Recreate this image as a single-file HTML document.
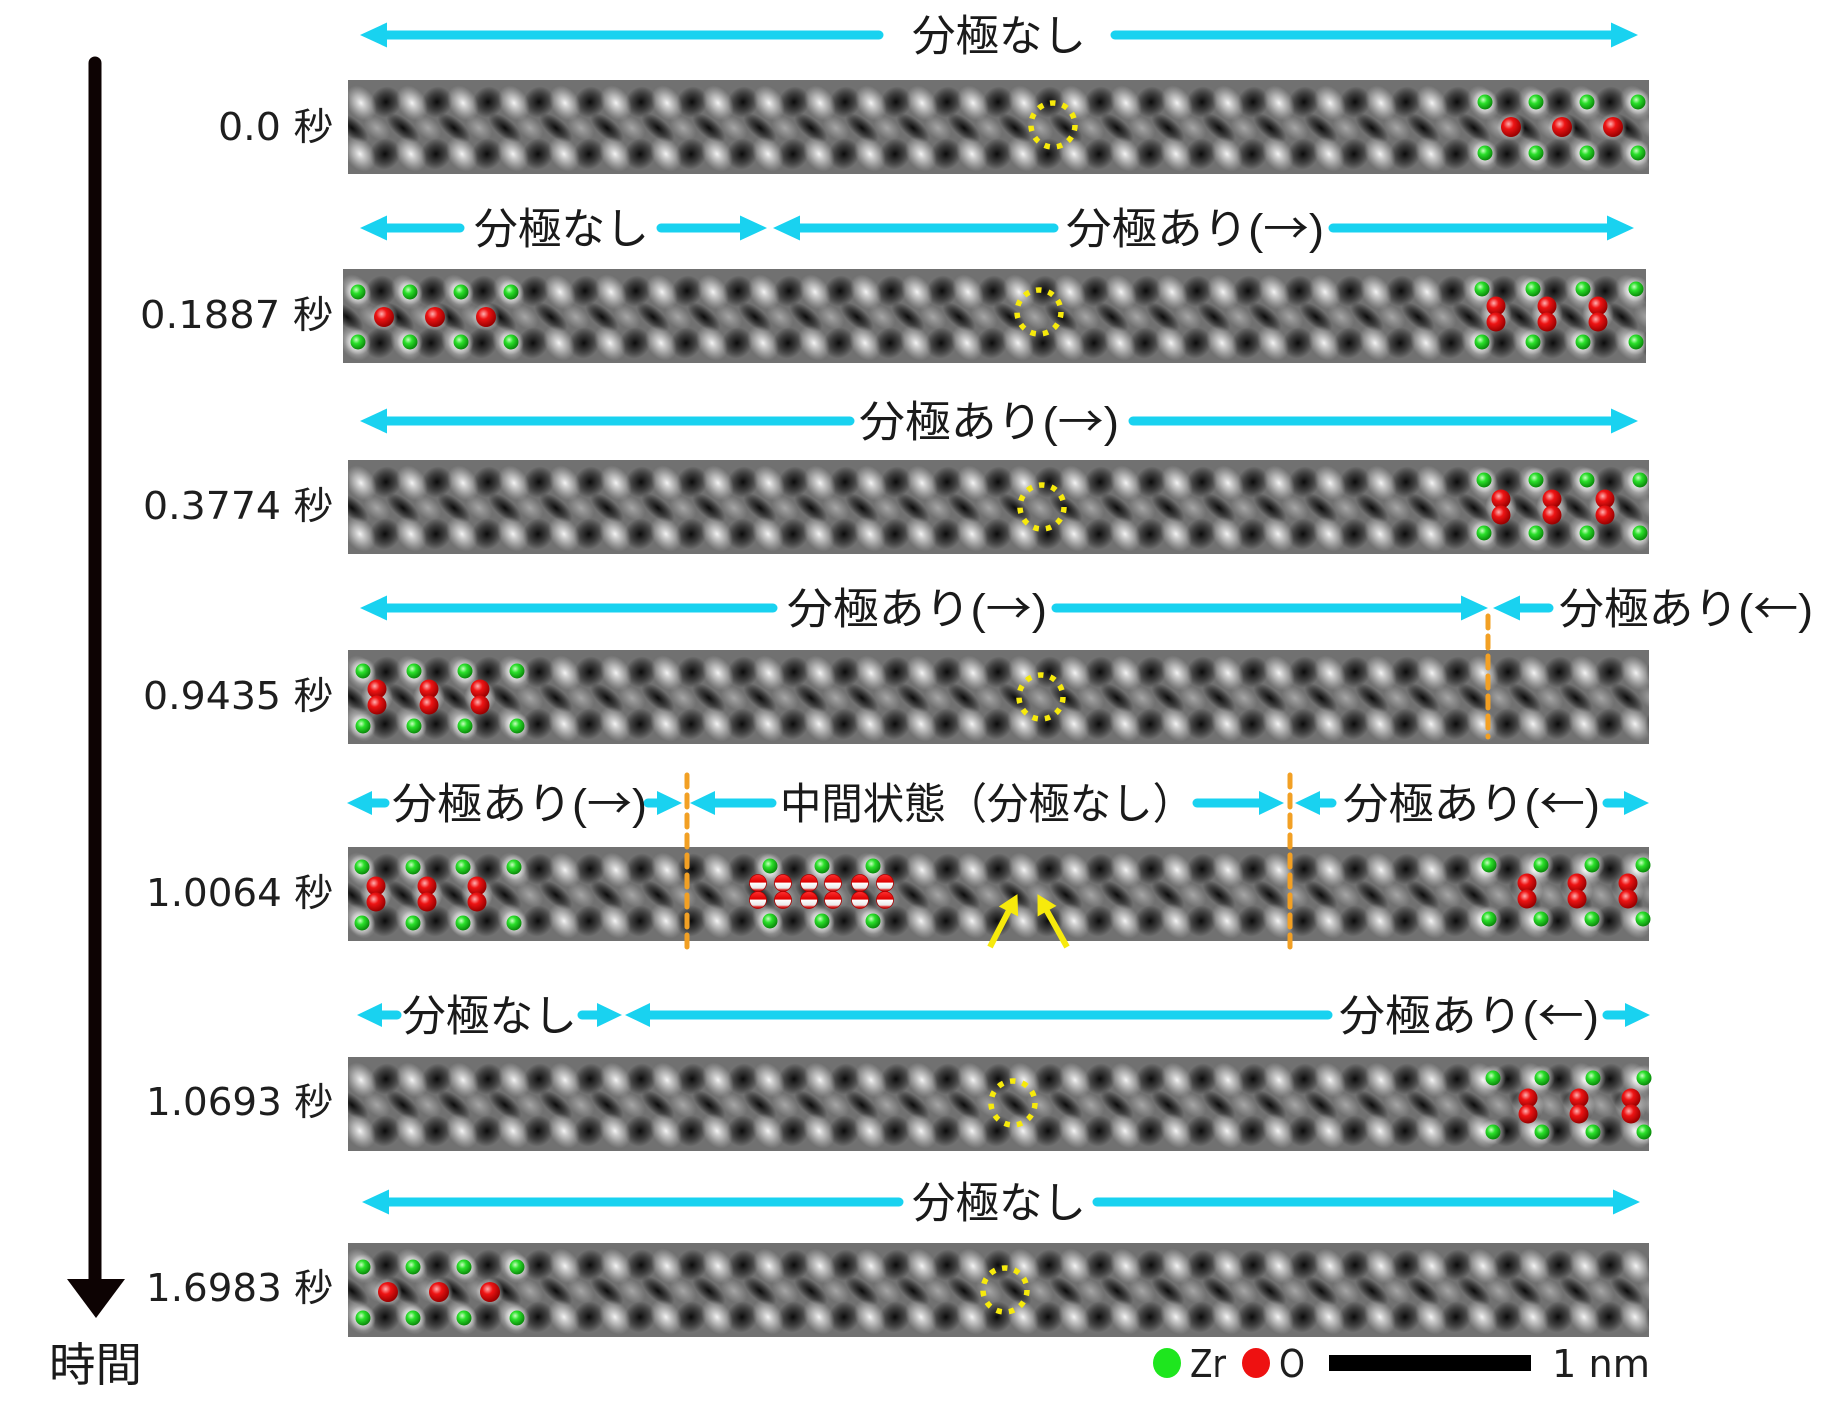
<!DOCTYPE html>
<html lang="ja">
<head>
<meta charset="utf-8">
<style>
  html,body{margin:0;padding:0;background:#fff;}
  svg{display:block;}
  .jp{font-family:"Liberation Sans","Noto Sans CJK JP",sans-serif;font-size:43px;fill:#1a1a1a;}
  .ar{font-family:"Noto Sans CJK JP",sans-serif;}
  .tl{font-family:"DejaVu Sans","Noto Sans CJK JP",sans-serif;font-size:38px;fill:#1e1e1e;}
  .lg{font-family:"DejaVu Sans","Liberation Sans",sans-serif;font-size:38px;fill:#1e1e1e;}
</style>
</head>
<body>
<svg width="1848" height="1402" viewBox="0 0 1848 1402" xmlns="http://www.w3.org/2000/svg">
<defs>
  <radialGradient id="gw">
    <stop offset="0" stop-color="#ffffff" stop-opacity="0.92"/>
    <stop offset="0.45" stop-color="#e0e0e0" stop-opacity="0.6"/>
    <stop offset="1" stop-color="#c8c8c8" stop-opacity="0"/>
  </radialGradient>
  <radialGradient id="gk">
    <stop offset="0" stop-color="#000000" stop-opacity="0.9"/>
    <stop offset="0.5" stop-color="#0a0a0a" stop-opacity="0.55"/>
    <stop offset="1" stop-color="#000000" stop-opacity="0"/>
  </radialGradient>
  <radialGradient id="gl">
    <stop offset="0" stop-color="#cfcfcf" stop-opacity="0.55"/>
    <stop offset="1" stop-color="#cfcfcf" stop-opacity="0"/>
  </radialGradient>
  <radialGradient id="halo">
    <stop offset="0" stop-color="#ffffff" stop-opacity="0.75"/>
    <stop offset="0.6" stop-color="#ffffff" stop-opacity="0.35"/>
    <stop offset="1" stop-color="#ffffff" stop-opacity="0"/>
  </radialGradient>
  <radialGradient id="gg" cx="0.38" cy="0.35" r="0.65">
    <stop offset="0" stop-color="#c8ffc0"/>
    <stop offset="0.4" stop-color="#2be02b"/>
    <stop offset="1" stop-color="#0a8a0a"/>
  </radialGradient>
  <radialGradient id="gr" cx="0.38" cy="0.35" r="0.65">
    <stop offset="0" stop-color="#ffb0b0"/>
    <stop offset="0.4" stop-color="#ee1414"/>
    <stop offset="1" stop-color="#9a0000"/>
  </radialGradient>
  <linearGradient id="grw" x1="0" y1="0" x2="0" y2="1">
    <stop offset="0" stop-color="#ff3030"/>
    <stop offset="0.45" stop-color="#dd0000"/>
    <stop offset="0.5" stop-color="#ffffff"/>
    <stop offset="0.8" stop-color="#e8e8e8"/>
    <stop offset="0.9" stop-color="#e03030"/>
    <stop offset="1" stop-color="#b00000"/>
  </linearGradient>

  <pattern id="tex" patternUnits="userSpaceOnUse" width="51" height="94">
    <rect width="51" height="94" fill="#717171"/>
    <!-- middle row -->
    <ellipse cx="4" cy="48" rx="20" ry="9" transform="rotate(40 4 48)" fill="url(#gk)"/>
    <ellipse cx="55" cy="48" rx="20" ry="9" transform="rotate(40 55 48)" fill="url(#gk)"/>
    <ellipse cx="29" cy="48" rx="15" ry="10" transform="rotate(40 29 48)" fill="url(#gl)"/>
    <!-- black blobs -->
    <ellipse cx="38" cy="22" rx="15" ry="16" transform="rotate(40 38 22)" fill="url(#gk)"/>
    <ellipse cx="-13" cy="22" rx="15" ry="16" transform="rotate(40 -13 22)" fill="url(#gk)"/>
    <ellipse cx="37" cy="74" rx="15" ry="16" transform="rotate(40 37 74)" fill="url(#gk)"/>
    <ellipse cx="-14" cy="74" rx="15" ry="16" transform="rotate(40 -14 74)" fill="url(#gk)"/>
    <!-- white blobs -->
    <ellipse cx="13" cy="23" rx="19" ry="14" transform="rotate(55 13 23)" fill="url(#gw)"/>
    <ellipse cx="64" cy="23" rx="19" ry="14" transform="rotate(55 64 23)" fill="url(#gw)"/>
    <ellipse cx="12" cy="74" rx="19" ry="14" transform="rotate(55 12 74)" fill="url(#gw)"/>
    <ellipse cx="63" cy="74" rx="19" ry="14" transform="rotate(55 63 74)" fill="url(#gw)"/>
  </pattern>

  <g id="zr">
    <circle r="13" fill="url(#halo)"/>
    <circle r="7.5" fill="url(#gg)"/>
  </g>
  <g id="o1">
    <circle r="14" fill="url(#halo)"/>
    <circle r="10" fill="url(#gr)"/>
  </g>
  <g id="o2">
    <circle r="16" fill="url(#halo)"/>
    <circle cy="-8" r="9.5" fill="url(#gr)"/>
    <circle cy="8" r="9.5" fill="url(#gr)"/>
  </g>
  <g id="orw">
    <circle r="8.5" fill="url(#grw)" stroke="#b00000" stroke-width="0.8"/>
  </g>
</defs>

<rect width="1848" height="1402" fill="#ffffff"/>

<!-- ===== Time axis ===== -->
<line x1="95" y1="63" x2="95" y2="1285" stroke="#0d0303" stroke-width="13" stroke-linecap="round"/>
<polygon points="67,1279 125,1279 96,1318" fill="#0d0303"/>
<text x="49" y="1381" font-family="Liberation Sans, Noto Sans CJK JP, sans-serif" font-size="46" fill="#1a1a1a" textLength="93" lengthAdjust="spacingAndGlyphs">時間</text>

<!-- ===== Bars ===== -->
<g transform="translate(348,80)"><rect width="1301" height="94" fill="url(#tex)"/></g>
<g transform="translate(343,269)"><rect width="1303" height="94" fill="url(#tex)"/></g>
<g transform="translate(348,460)"><rect width="1301" height="94" fill="url(#tex)"/></g>
<g transform="translate(348,650)"><rect width="1301" height="94" fill="url(#tex)"/></g>
<g transform="translate(348,847)"><rect width="1301" height="94" fill="url(#tex)"/></g>
<g transform="translate(348,1057)"><rect width="1301" height="94" fill="url(#tex)"/></g>
<g transform="translate(348,1243)"><rect width="1301" height="94" fill="url(#tex)"/></g>

<!-- ===== Atoms ===== -->
<use href="#zr" x="1485" y="102"/><use href="#zr" x="1536" y="102"/><use href="#zr" x="1587" y="102"/><use href="#zr" x="1638" y="102"/>
<use href="#zr" x="1485" y="153"/><use href="#zr" x="1536" y="153"/><use href="#zr" x="1587" y="153"/><use href="#zr" x="1638" y="153"/>
<use href="#o1" x="1511" y="127"/><use href="#o1" x="1562" y="127"/><use href="#o1" x="1613" y="127"/>

<use href="#zr" x="358" y="292"/><use href="#zr" x="410" y="292"/><use href="#zr" x="461" y="292"/><use href="#zr" x="511" y="292"/>
<use href="#zr" x="358" y="342"/><use href="#zr" x="410" y="342"/><use href="#zr" x="461" y="342"/><use href="#zr" x="511" y="342"/>
<use href="#o1" x="384" y="317"/><use href="#o1" x="435" y="317"/><use href="#o1" x="486" y="317"/>
<use href="#zr" x="1482" y="289"/><use href="#zr" x="1533" y="289"/><use href="#zr" x="1583" y="289"/><use href="#zr" x="1636" y="289"/>
<use href="#zr" x="1482" y="342"/><use href="#zr" x="1533" y="342"/><use href="#zr" x="1583" y="342"/><use href="#zr" x="1636" y="342"/>
<use href="#o2" x="1496" y="314"/><use href="#o2" x="1547" y="314"/><use href="#o2" x="1598" y="314"/>

<use href="#zr" x="1484" y="480"/><use href="#zr" x="1536" y="480"/><use href="#zr" x="1587" y="480"/><use href="#zr" x="1640" y="480"/>
<use href="#zr" x="1484" y="533"/><use href="#zr" x="1536" y="533"/><use href="#zr" x="1587" y="533"/><use href="#zr" x="1640" y="533"/>
<use href="#o2" x="1501" y="507"/><use href="#o2" x="1552" y="507"/><use href="#o2" x="1605" y="507"/>

<use href="#zr" x="363" y="671"/><use href="#zr" x="414" y="671"/><use href="#zr" x="465" y="671"/><use href="#zr" x="517" y="671"/>
<use href="#zr" x="363" y="726"/><use href="#zr" x="414" y="726"/><use href="#zr" x="465" y="726"/><use href="#zr" x="517" y="726"/>
<use href="#o2" x="377" y="697"/><use href="#o2" x="429" y="697"/><use href="#o2" x="480" y="697"/>

<use href="#zr" x="362" y="867"/><use href="#zr" x="413" y="867"/><use href="#zr" x="463" y="867"/><use href="#zr" x="514" y="867"/>
<use href="#zr" x="362" y="923"/><use href="#zr" x="413" y="923"/><use href="#zr" x="463" y="923"/><use href="#zr" x="514" y="923"/>
<use href="#o2" x="376" y="894"/><use href="#o2" x="427" y="894"/><use href="#o2" x="477" y="894"/>
<use href="#zr" x="770" y="866"/><use href="#zr" x="822" y="866"/><use href="#zr" x="873" y="866"/>
<use href="#zr" x="770" y="921"/><use href="#zr" x="822" y="921"/><use href="#zr" x="873" y="921"/>
<use href="#orw" x="758" y="883"/><use href="#orw" x="783" y="883"/><use href="#orw" x="809" y="883"/><use href="#orw" x="833" y="883"/><use href="#orw" x="860" y="883"/><use href="#orw" x="885" y="883"/>
<use href="#orw" x="758" y="900"/><use href="#orw" x="783" y="900"/><use href="#orw" x="809" y="900"/><use href="#orw" x="833" y="900"/><use href="#orw" x="860" y="900"/><use href="#orw" x="885" y="900"/>
<use href="#zr" x="1489" y="865"/><use href="#zr" x="1541" y="865"/><use href="#zr" x="1592" y="865"/><use href="#zr" x="1643" y="865"/>
<use href="#zr" x="1489" y="919"/><use href="#zr" x="1541" y="919"/><use href="#zr" x="1592" y="919"/><use href="#zr" x="1643" y="919"/>
<use href="#o2" x="1527" y="891"/><use href="#o2" x="1577" y="891"/><use href="#o2" x="1628" y="891"/>

<use href="#zr" x="1493" y="1078"/><use href="#zr" x="1542" y="1078"/><use href="#zr" x="1593" y="1078"/><use href="#zr" x="1644" y="1078"/>
<use href="#zr" x="1493" y="1132"/><use href="#zr" x="1542" y="1132"/><use href="#zr" x="1593" y="1132"/><use href="#zr" x="1644" y="1132"/>
<use href="#o2" x="1528" y="1106"/><use href="#o2" x="1579" y="1106"/><use href="#o2" x="1631" y="1106"/>

<use href="#zr" x="363" y="1267"/><use href="#zr" x="413" y="1267"/><use href="#zr" x="464" y="1267"/><use href="#zr" x="517" y="1267"/>
<use href="#zr" x="363" y="1318"/><use href="#zr" x="413" y="1318"/><use href="#zr" x="464" y="1318"/><use href="#zr" x="517" y="1318"/>
<use href="#o1" x="388" y="1292"/><use href="#o1" x="439" y="1292"/><use href="#o1" x="490" y="1292"/>

<!-- ===== Yellow dotted circles ===== -->
<g fill="none" stroke="#f7ea0c" stroke-width="5.5" stroke-dasharray="5.5 7.06">
  <circle cx="1053" cy="125" r="22"/>
  <circle cx="1039" cy="312" r="22"/>
  <circle cx="1042" cy="507" r="22"/>
  <circle cx="1041" cy="697" r="22"/>
  <circle cx="1013" cy="1103" r="22"/>
  <circle cx="1005" cy="1290" r="22"/>
</g>

<!-- ===== Yellow arrows (bar5) ===== -->
<g fill="#f7ea0c" stroke="#f7ea0c">
  <line x1="990" y1="947" x2="1008.7" y2="911" stroke-width="6"/>
  <polygon points="1017,895 1017.6,915.6 999.8,906.4" stroke-width="1"/>
  <line x1="1067" y1="947" x2="1046.8" y2="910.7" stroke-width="6"/>
  <polygon points="1038,895 1055.5,905.8 1038.1,915.6" stroke-width="1"/>
</g>

<!-- ===== Orange dashed boundaries ===== -->
<g stroke="#f2a024" stroke-width="5" stroke-dasharray="12 8" stroke-linecap="round">
  <line x1="1488" y1="616" x2="1488" y2="737"/>
  <line x1="687" y1="775" x2="687" y2="950"/>
  <line x1="1290" y1="775" x2="1290" y2="952"/>
</g>

<!-- ===== Cyan arrows ===== -->
<g fill="#19d2f0" stroke="#19d2f0" stroke-width="9" stroke-linecap="round">
  <line x1="380" y1="35" x2="879" y2="35"/><polygon points="360,35 387,22.5 387,47.5" stroke="none"/>
  <line x1="1115" y1="35" x2="1618" y2="35"/><polygon points="1638,35 1611,22.5 1611,47.5" stroke="none"/>
  <line x1="380" y1="228" x2="460" y2="228"/><polygon points="360,228 387,215.5 387,240.5" stroke="none"/>
  <line x1="661" y1="228" x2="747" y2="228"/><polygon points="767,228 740,215.5 740,240.5" stroke="none"/>
  <line x1="793" y1="228" x2="1054" y2="228"/><polygon points="773,228 800,215.5 800,240.5" stroke="none"/>
  <line x1="1333" y1="228" x2="1614" y2="228"/><polygon points="1634,228 1607,215.5 1607,240.5" stroke="none"/>
  <line x1="380" y1="421" x2="850" y2="421"/><polygon points="360,421 387,408.5 387,433.5" stroke="none"/>
  <line x1="1133" y1="421" x2="1618" y2="421"/><polygon points="1638,421 1611,408.5 1611,433.5" stroke="none"/>
  <line x1="380" y1="608" x2="773" y2="608"/><polygon points="360,608 387,595.5 387,620.5" stroke="none"/>
  <line x1="1056" y1="608" x2="1468" y2="608"/><polygon points="1488,608 1461,595.5 1461,620.5" stroke="none"/>
  <line x1="1513" y1="608" x2="1549" y2="608"/><polygon points="1493,608 1520,595.5 1520,620.5" stroke="none"/>
  <line x1="365" y1="803" x2="385" y2="803"/><polygon points="347,803 372,791 372,815" stroke="none"/>
  <line x1="648" y1="803" x2="665" y2="803"/><polygon points="682,803 657,791 657,815" stroke="none"/>
  <line x1="708" y1="803" x2="772" y2="803"/><polygon points="690,803 715,791 715,815" stroke="none"/>
  <line x1="1197" y1="803" x2="1266" y2="803"/><polygon points="1284,803 1259,791 1259,815" stroke="none"/>
  <line x1="1313" y1="803" x2="1332" y2="803"/><polygon points="1295,803 1320,791 1320,815" stroke="none"/>
  <line x1="1607" y1="803" x2="1632" y2="803"/><polygon points="1649,803 1624,791 1624,815" stroke="none"/>
  <line x1="375" y1="1015" x2="397" y2="1015"/><polygon points="357,1015 382,1003 382,1027" stroke="none"/>
  <line x1="582" y1="1015" x2="604" y2="1015"/><polygon points="622,1015 597,1003 597,1027" stroke="none"/>
  <line x1="643" y1="1015" x2="1328" y2="1015"/><polygon points="625,1015 650,1003 650,1027" stroke="none"/>
  <line x1="1607" y1="1015" x2="1632" y2="1015"/><polygon points="1650,1015 1625,1003 1625,1027" stroke="none"/>
  <line x1="382" y1="1202" x2="899" y2="1202"/><polygon points="362,1202 389,1189.5 389,1214.5" stroke="none"/>
  <line x1="1097" y1="1202" x2="1620" y2="1202"/><polygon points="1640,1202 1613,1189.5 1613,1214.5" stroke="none"/>
</g>

<!-- ===== Arrow labels ===== -->
<text class="jp" x="912" y="51" textLength="174" lengthAdjust="spacingAndGlyphs">分極なし</text>

<text class="jp" x="474" y="244" textLength="175" lengthAdjust="spacingAndGlyphs">分極なし</text>
<text class="jp" x="1066" y="244" textLength="258" lengthAdjust="spacingAndGlyphs">分極あり(<tspan class="ar">→</tspan>)</text>

<text class="jp" x="859" y="437" textLength="260" lengthAdjust="spacingAndGlyphs">分極あり(<tspan class="ar">→</tspan>)</text>

<text class="jp" x="787" y="624" textLength="260" lengthAdjust="spacingAndGlyphs">分極あり(<tspan class="ar">→</tspan>)</text>
<text class="jp" x="1559" y="624" textLength="254" lengthAdjust="spacingAndGlyphs">分極あり(<tspan class="ar">←</tspan>)</text>

<text class="jp" x="392" y="819" textLength="255" lengthAdjust="spacingAndGlyphs">分極あり(<tspan class="ar">→</tspan>)</text>
<text class="jp" x="780" y="819" textLength="414" lengthAdjust="spacingAndGlyphs">中間状態（分極なし）</text>
<text class="jp" x="1343" y="819" textLength="257" lengthAdjust="spacingAndGlyphs">分極あり(<tspan class="ar">←</tspan>)</text>

<text class="jp" x="402" y="1031" textLength="175" lengthAdjust="spacingAndGlyphs">分極なし</text>
<text class="jp" x="1339" y="1031" textLength="260" lengthAdjust="spacingAndGlyphs">分極あり(<tspan class="ar">←</tspan>)</text>

<text class="jp" x="912" y="1218" textLength="174" lengthAdjust="spacingAndGlyphs">分極なし</text>

<!-- ===== Time labels ===== -->
<text class="tl" x="218" y="140" textLength="115" lengthAdjust="spacingAndGlyphs">0.0 秒</text>
<text class="tl" x="140" y="328" textLength="193" lengthAdjust="spacingAndGlyphs">0.1887 秒</text>
<text class="tl" x="143" y="519" textLength="190" lengthAdjust="spacingAndGlyphs">0.3774 秒</text>
<text class="tl" x="143" y="709" textLength="190" lengthAdjust="spacingAndGlyphs">0.9435 秒</text>
<text class="tl" x="146" y="906" textLength="187" lengthAdjust="spacingAndGlyphs">1.0064 秒</text>
<text class="tl" x="146" y="1115" textLength="187" lengthAdjust="spacingAndGlyphs">1.0693 秒</text>
<text class="tl" x="146" y="1301" textLength="187" lengthAdjust="spacingAndGlyphs">1.6983 秒</text>

<!-- ===== Legend ===== -->
<ellipse cx="1167" cy="1363" rx="14" ry="15" fill="#1ee61e"/>
<text class="lg" x="1190" y="1377" textLength="36" lengthAdjust="spacingAndGlyphs">Zr</text>
<ellipse cx="1256" cy="1363" rx="14" ry="15" fill="#ee1111"/>
<text class="lg" x="1279" y="1377" textLength="26" lengthAdjust="spacingAndGlyphs">O</text>
<rect x="1329" y="1355" width="202" height="16" fill="#000"/>
<text class="lg" x="1552" y="1377" textLength="98" lengthAdjust="spacingAndGlyphs">1 nm</text>
</svg>
</body>
</html>
